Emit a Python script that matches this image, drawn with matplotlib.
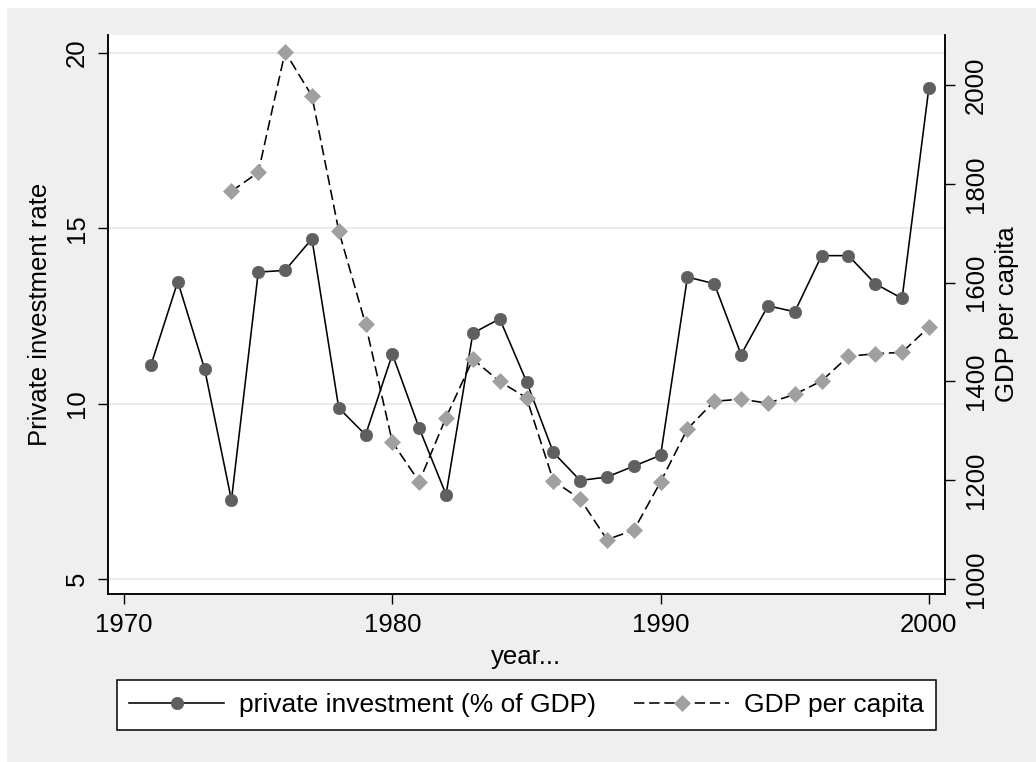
import matplotlib.pyplot as plt
from matplotlib.patches import Rectangle
import numpy as np

plt.rcParams['font.family'] = ['Liberation Sans', 'DejaVu Sans']

# private investment (% of GDP), 1971-2000
years_inv = np.arange(1971, 2001)
inv = [11.10, 13.48, 10.99, 7.25, 13.75, 13.80, 14.70, 9.88, 9.11, 11.41,
       9.30, 7.41, 12.01, 12.42, 10.63, 8.61, 7.81, 7.91, 8.22, 8.53,
       13.61, 13.42, 11.40, 12.79, 12.62, 14.22, 14.22, 13.42, 13.00, 19.01]

# GDP per capita, 1974-2000
years_gdp = np.arange(1974, 2001)
gdp = [1785, 1823, 2067, 1978, 1705, 1516, 1277, 1197, 1327, 1445,
       1400, 1367, 1199, 1162, 1080, 1099, 1197, 1304, 1360, 1364,
       1356, 1374, 1401, 1451, 1456, 1459, 1510]

xticks = [1970, 1980, 1990, 2000]
yticks_left = [5, 10, 15, 20]
yticks_right = [1000, 1200, 1400, 1600, 1800, 2000]

fs = 18.5
W, H = 1036, 762
fig = plt.figure(figsize=(W / 100, H / 100), dpi=100)
fig.patch.set_facecolor('white')
fig.patches.append(Rectangle((7 / W, 0), 1 - 7 / W, 1 - 8 / H, transform=fig.transFigure,
                             facecolor='#efefef', edgecolor='none', zorder=-10))

ax = fig.add_axes([107.5 / W, (H - 594.3) / H, 837.5 / W, 559.3 / H])
ax.set_facecolor('white')
l1, = ax.plot(years_inv, inv, '-', color='black', lw=1.15, marker='o', ms=8.9,
              mfc='#5f5f5f', mec='#5f5f5f', mew=0.5, zorder=3)
ax.set_xlim(1969.38, 2000.6)
ax.set_ylim(4.566, 20.51)
ax.set_xticks(xticks)
ax.set_yticks(yticks_left)
ax.grid(axis='y', color='#e6e6e6', lw=1.1, zorder=0)
ax.set_axisbelow(True)
ax.set_xlabel('year...', fontsize=fs, labelpad=6)
ax.set_ylabel('Private investment rate', fontsize=fs, labelpad=9)

ax2 = ax.twinx()
l2, = ax2.plot(years_gdp, gdp, '--', color='black', lw=1.15, dashes=(6.5, 3),
               marker='D', ms=7.8, mfc='#a0a0a0', mec='#a0a0a0', mew=0.5, zorder=3)
ax2.set_ylim(969.2, 2101.2)
ax2.set_yticks(yticks_right)
ax2.set_ylabel('GDP per capita', fontsize=fs, labelpad=5)

for a in (ax, ax2):
    a.spines['top'].set_visible(False)
    for s in ('left', 'right', 'bottom'):
        a.spines[s].set_linewidth(1.1)
    a.tick_params(direction='out', length=7.5, width=1.0, labelsize=fs, pad=6)
ax.tick_params(axis='y', labelrotation=90)
ax2.tick_params(axis='y', labelrotation=90)
for t in ax.get_yticklabels():
    t.set_va('center')
for t in ax2.get_yticklabels():
    t.set_va('center')

leg = fig.legend([l1, l2], ['private investment (% of GDP)', 'GDP per capita'],
                 loc='center', bbox_to_anchor=(526.5 / W, 1 - 705 / H), ncol=2,
                 frameon=True, fancybox=False, edgecolor='black', framealpha=1,
                 fontsize=19, numpoints=1, borderpad=0.48, handlelength=3.6,
                 handletextpad=0.55, columnspacing=1.45)
leg.get_frame().set_linewidth(1.1)

plt.savefig('out.png', dpi=100)
